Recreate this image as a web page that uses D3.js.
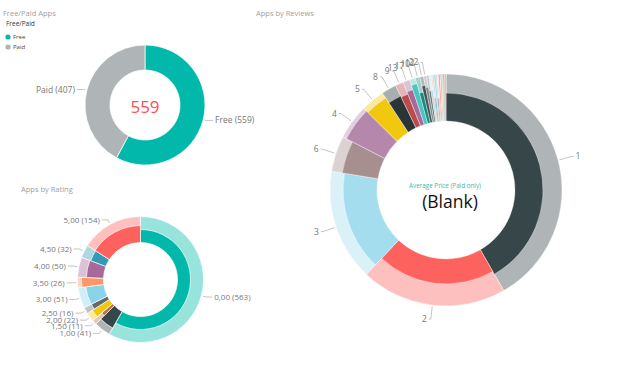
<!DOCTYPE html>
<html>
<head>
<meta charset="utf-8">
<script src="https://cdnjs.cloudflare.com/ajax/libs/d3/7.8.5/d3.min.js"></script>
<style>
body { margin: 0; background: #fff; }
svg { display: block; font-family: "Open Sans", "Segoe UI", sans-serif; }
</style>
</head>
<body>
<div id="chart"></div>
<script>
// free / paid  (Free is the highlighted selection)
var freePaidCats = ["Free", "Paid"],
	freePaidValues = [559, 407],
	freePaidColors = ["#01B8AA", "#AFB5B6"];

// ratings: all apps (light ring) and free apps (highlighted depth)
var ratingCats = ["0,00", "1,00", "1,50", "2,00", "2,50", "3,00", "3,50", "4,00", "4,50", "5,00"],
	ratingCounts = [563, 41, 11, 22, 16, 51, 26, 50, 32, 154],
	ratingFree = [282, 30, 6, 17, 11, 36, 22, 33, 20, 100],
	ratingColors = ["#01B8AA", "#374649", "#BD7150", "#F2C80F", "#5F6B6D", "#8AD4EB", "#FE9666", "#A66999", "#3599B8", "#FD625E"];

// reviews
var reviewCats = ["1", "2", "3", "6", "4", "5", "8", "9", "13", "17", "10", "12", "22",
		"7", "11", "14", "15", "16", "18", "19", "20", "21", "23", "24", "25", "26", "27", "28", "30"],
	reviewValues = [402, 196, 150, 48, 47, 32, 20, 11, 9, 8, 6, 5, 4,
		3, 3, 2, 2, 2, 2, 2, 2, 1, 1, 1, 1, 1, 1, 1, 1],
	reviewFree = [240, 104, 108, 37, 43, 28, 15, 8, 7, 7, 4, 4, 3,
		2, 2, 1, 1, 2, 1, 1, 2, 1, 1, 1, 1, 1, 1, 1, 1],
	reviewColors = ["#374649", "#FD625E", "#A4DDEE", "#A78F8F", "#B687AC", "#F2C80F", "#293537", "#BB4A4A", "#A66999", "#4AC5BB", "#168980", "#475052", "#7F898A",
		"#5F6B6D", "#A4DDEE", "#FE9666", "#3599B8", "#8AD4EB", "#7F898A", "#FDAB89", "#FB8281", "#DFBFBF", "#28738A", "#F4D25A", "#6A9FB0", "#BD7150", "#475052", "#FE9666", "#01B8AA"];

var w = 640,
	h = 366,
	labelColor = "#777",
	lineColor = "#aaa";

var svg = d3.select("#chart").append("svg")
	.attr("width", w)
	.attr("height", h);

svg.append("rect").attr("width", w).attr("height", h).attr("fill", "#fff");

var pie = d3.pie().sort(null).value(function(d) { return d; });

// plain donut ring
var drawRing = function(cats, values, colors, cx, cy, r0, r1, opacity, sw) {
	var color = d3.scaleOrdinal(cats, colors);
	var arc = d3.arc().innerRadius(r0).outerRadius(r1);
	var g = svg.append("g").attr("transform", "translate(" + cx + "," + cy + ")");
	g.selectAll("path")
		.data(pie(values))
		.enter().append("path")
		.attr("d", arc)
		.attr("fill", function(d, i) { return color(cats[i]); })
		.attr("fill-opacity", opacity)
		.attr("stroke", "#fff")
		.attr("stroke-width", sw || 0.7);
	return g;
}

// dimmed full ring + highlighted part whose depth follows the share of the slice
var drawHighlight = function(cats, totals, parts, colors, cx, cy, r0, r1, sw) {
	drawRing(cats, totals, colors, cx, cy, r0, r1, 0.4, sw);
	var color = d3.scaleOrdinal(cats, colors);
	var depth = d3.scaleLinear().domain([0, 1]).range([r0, r1]);
	var arc = d3.arc()
		.innerRadius(r0)
		.outerRadius(function(d) { return depth(parts[d.index] / totals[d.index]); });
	var g = svg.append("g").attr("transform", "translate(" + cx + "," + cy + ")");
	g.selectAll("path")
		.data(pie(totals))
		.enter().append("path")
		.attr("d", arc)
		.attr("fill", function(d, i) { return color(cats[i]); })
		.attr("stroke", "#fff")
		.attr("stroke-width", sw);
}

// leader lines + labels around a ring
var drawLabels = function(values, texts, cx, cy, r, radial, horiz, minAngle, fontSize) {
	var g = svg.append("g").attr("transform", "translate(" + cx + "," + cy + ")");
	pie(values).forEach(function(d, i) {
		if (d.endAngle - d.startAngle < minAngle) return;
		var a = (d.startAngle + d.endAngle) / 2,
			sx = Math.sin(a), sy = -Math.cos(a),
			right = sx >= 0,
			bx = sx * (r + radial), by = sy * (r + radial),
			ex = bx + (right ? horiz : -horiz);
		g.append("polyline")
			.attr("points", [[sx * (r + 1.5), sy * (r + 1.5)], [bx, by], [ex, by]].join(" "))
			.attr("fill", "none")
			.attr("stroke", lineColor)
			.attr("stroke-width", 0.7);
		g.append("text")
			.attr("x", ex + (right ? 2 : -2))
			.attr("y", by)
			.attr("dy", "0.35em")
			.attr("text-anchor", right ? "start" : "end")
			.attr("font-size", fontSize)
			.attr("fill", labelColor)
			.text(texts[i]);
	});
}

var title = function(x, y, t) {
	svg.append("text").attr("x", x).attr("y", y)
		.attr("font-size", 7.5).attr("fill", "#a0a0a0").text(t);
}

/* FREE / PAID ------------------------------ */
title(3, 16, "Free/Paid Apps");
svg.append("text").attr("x", 6).attr("y", 26).attr("font-size", 6.5)
	.attr("fill", "#333").text("Free/Paid");
freePaidCats.forEach(function(c, i) {
	svg.append("circle").attr("cx", 8).attr("cy", 37 + i * 10).attr("r", 2.6).attr("fill", freePaidColors[i]);
	svg.append("text").attr("x", 13).attr("y", 37 + i * 10).attr("dy", "0.35em")
		.attr("font-size", 6).attr("fill", "#444").text(c);
});

drawRing(freePaidCats, freePaidValues, freePaidColors, 145, 105, 35, 60, 1);
drawLabels(freePaidValues,
	freePaidCats.map(function(c, i) { return c + " (" + freePaidValues[i] + ")"; }),
	145, 105, 60, 3, 7, 0, 8.5);
svg.append("text").attr("x", 145).attr("y", 107).attr("dy", "0.35em")
	.attr("text-anchor", "middle").attr("font-size", 17).attr("fill", "#FD4F4F")
	.text(freePaidValues[0]);

/* RATING ------------------------------ */
title(21, 192, "Apps by Rating");
drawHighlight(ratingCats, ratingCounts, ratingFree, ratingColors, 140.5, 279.5, 37, 63, 0.7);
drawLabels(ratingCounts,
	ratingCats.map(function(c, i) { return c + " (" + ratingCounts[i] + ")"; }),
	140.5, 279.5, 63, 5, 6, 0, 8);

/* REVIEWS ------------------------------ */
title(256, 16, "Apps by Reviews");
drawHighlight(reviewCats, reviewValues, reviewFree, reviewColors, 446, 190, 69, 116, 0.4);
drawLabels(reviewValues, reviewCats, 446, 190, 116, 14, 2, 0.025, 8.5);

svg.append("text").attr("x", 445).attr("y", 186).attr("dy", "0.35em")
	.attr("text-anchor", "middle").attr("font-size", 6.3).attr("fill", "#3DB8AE")
	.text("Average Price (Paid only)");
svg.append("text").attr("x", 450).attr("y", 202).attr("dy", "0.35em")
	.attr("text-anchor", "middle").attr("font-size", 17.5).attr("fill", "#111")
	.text("(Blank)");
</script>
</body>
</html>
